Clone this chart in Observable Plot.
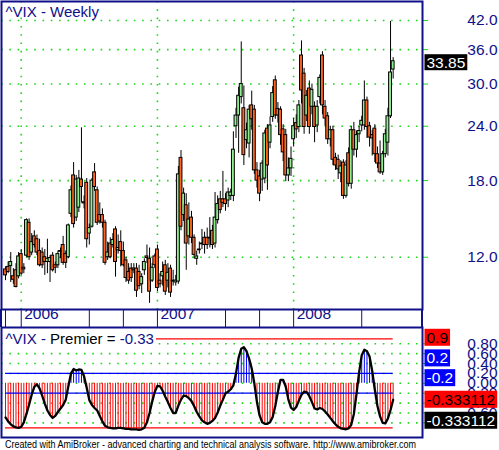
<!DOCTYPE html>
<html><head><meta charset="utf-8">
<script src="https://cdn.jsdelivr.net/npm/d3@7"></script>
<script src="https://cdn.jsdelivr.net/npm/@observablehq/plot@0.6"></script>
<style>
html,body{margin:0;padding:0;background:#fff;}
#chart{position:relative;width:499px;height:450px;overflow:hidden;font-family:"Liberation Sans",Arial,sans-serif;}
#chart svg{position:absolute;left:0;}
#band{position:absolute;left:0;top:309px;width:423px;height:18px;box-sizing:border-box;border-left:2px solid #10108a;border-right:2px solid #10108a;}
</style></head><body><div id="chart"><div id="band"></div></div>
<script>
// ---- data (weekly ^VIX bars) ----
const opens = [11.25,11.4,11.45,10.85,11.2,10.85,12.2,11.35,12.1,14.4, 12.3,13.4,13.2,12.4,12.3,12.0,11.7,11.7,12.1,11.5, 11.5,12.4,12.8,12.2,12.0,15.1,18.5,14.8,15.6,18.1, 16.05,17.8,13.6,14.1,18.8,17.1,15.0,15.0,14.4,12.0, 12.9,12.8,13.9,12.45,13.0,12.4,11.8,11.1,11.3,11.3, 11.3,11.1,10.4,11.2,12.05,11.9,10.6,12.05,12.5,10.6, 10.85,11.5,10.6,11.3,10.6,10.5,10.55,20.3,15.0,15.8, 13.4,14.8,13.3,11.9,12.45,12.85,13.3,13.3,13.3,13.8, 12.9,14.6,16.3,16.3,16.3,16.2,16.6,16.6,24.0,25.4, 28.0,26.4,22.3,21.9,26.8,26.2,19.0,18.4,18.1,18.2, 23.7,22.0,25.2,30.6,26.3,26.2,23.6,22.9,18.5,19.2, 22.4,24.4,23.9,34.9,31.7,25.4,29.3,26.6,26.6,24.1, 28.0,34.9,26.6,25.3,22.4,23.5,20.3,20.1,18.7,19.8, 16.6,20.8,17.7,23.5,21.2,23.0,24.1,24.1,27.5,24.0, 22.9,23.7,20.7,19.7,18.8,20.7,22.0,25.3,32.4];
const highs = [11.4,11.7,12.3,11.3,11.6,12.3,12.5,11.6,14.7,14.7, 13.6,13.8,13.5,13.2,12.6,12.5,13.2,12.1,12.3,11.7, 12.4,12.6,13.4,12.4,14.3,17.5,19.8,18.5,19.0,23.8, 16.6,18.2,14.3,18.2,19.7,17.4,16.0,15.5,14.6,13.0, 13.3,13.6,14.1,13.5,13.8,13.0,12.0,11.6,11.6,11.6, 11.6,11.5,11.0,11.9,12.8,12.6,11.6,12.2,12.8,11.0, 11.7,11.8,11.6,11.5,11.2,10.9,19.4,21.1,17.3,16.8, 16.0,15.3,13.5,12.4,13.0,13.9,13.7,14.0,14.8,14.2, 16.9,16.6,17.0,18.9,16.8,17.3,17.2,23.3,26.4,29.5, 37.5,29.7,24.4,26.8,28.9,26.8,19.8,19.0,20.0,23.5, 24.2,25.2,29.6,31.3,27.2,26.6,24.2,23.6,20.3,21.5, 25.0,25.5,27.5,37.7,32.6,29.0,30.5,30.0,27.3,27.5, 31.5,35.6,27.5,25.8,24.0,24.0,20.8,20.6,20.0,20.1, 20.0,21.4,24.0,24.5,23.4,24.0,25.3,30.5,28.0,24.5, 23.5,24.2,21.5,22.2,21.0,23.6,26.4,41.8,34.5];
const lows = [10.6,11.0,10.5,10.4,10.2,10.7,10.9,11.0,12.0,11.8, 12.1,12.6,12.1,11.4,11.3,10.9,11.0,10.5,11.1,11.0, 11.3,11.9,11.5,11.3,11.9,14.8,14.0,14.5,15.2,16.0, 15.5,12.6,12.8,14.0,17.0,14.2,14.3,14.0,11.5,11.8, 11.9,12.6,10.8,12.2,11.4,11.4,10.5,10.4,10.5,11.0, 9.7,10.1,9.9,10.9,11.6,9.4,10.5,11.3,10.0,10.2, 10.3,9.8,10.2,9.7,10.3,10.3,10.4,13.8,14.5,11.2, 12.8,12.9,11.9,11.5,12.2,12.5,12.2,12.5,12.6,12.5, 12.6,14.3,15.1,15.6,15.3,15.6,16.2,16.1,22.5,20.8, 27.0,19.5,21.3,20.3,23.5,18.6,17.3,16.1,17.0,17.7, 17.1,21.3,24.5,24.9,24.4,21.7,19.9,17.9,17.9,18.4, 21.5,22.5,23.2,27.0,23.0,24.6,23.0,25.5,22.0,23.2, 27.0,25.5,24.0,21.8,21.5,19.5,19.0,18.1,17.8,16.3, 16.4,17.4,17.2,20.5,20.3,22.0,23.3,23.5,22.5,21.5, 20.5,19.8,19.2,18.6,18.5,20.3,20.5,25.0,30.8];
const closes = [10.9,11.1,11.7,10.65,10.25,12.05,11.0,11.25,14.6,12.0, 13.0,12.8,12.3,11.5,11.5,11.7,11.9,11.95,11.2,11.35, 12.2,12.35,11.65,11.65,14.2,17.1,14.3,18.1,18.2,17.4, 15.95,13.2,14.0,18.0,17.4,14.4,14.5,14.4,11.65,12.3, 12.0,13.15,11.7,12.6,12.4,11.5,10.75,10.6,10.75,11.2, 10.05,10.3,10.8,11.7,11.95,10.0,11.35,11.5,10.2,10.4, 11.1,10.0,11.05,9.95,10.55,10.6,18.6,14.1,16.8,12.9, 14.65,13.3,12.15,12.05,12.5,12.9,12.8,12.8,13.25,12.8, 14.8,15.9,15.4,16.0,15.9,16.9,16.9,21.2,25.4,28.2, 30.0,20.6,23.5,26.2,24.9,19.0,18.0,16.8,19.7,23.1, 19.5,24.1,28.6,25.4,25.4,22.9,20.9,18.5,19.2,20.2, 24.0,23.6,26.8,29.0,23.9,28.2,23.9,29.1,23.9,26.6, 31.0,26.8,25.0,22.4,23.5,20.1,19.5,19.1,19.4,16.6, 19.5,17.7,23.5,21.2,22.9,23.4,24.7,27.5,23.9,22.6, 22.5,20.7,19.7,18.8,20.7,23.0,25.3,31.9,33.85];
const premier = [-0.69,-0.77,-0.83,-0.87,-0.89,-0.90,-0.88,-0.79,-0.62,-0.43, -0.23,-0.07,-0.02,-0.10,-0.25,-0.41,-0.55,-0.64,-0.70,-0.66, -0.58,-0.51,-0.44,-0.33,-0.06,0.20,0.29,0.26,0.28,0.27, 0.14,-0.09,-0.34,-0.44,-0.50,-0.55,-0.66,-0.77,-0.86,-0.89, -0.90,-0.91,-0.91,-0.90,-0.90,-0.91,-0.92,-0.92,-0.93,-0.93, -0.93,-0.94,-0.93,-0.90,-0.79,-0.60,-0.37,-0.17,-0.05,-0.06, -0.15,-0.27,-0.38,-0.50,-0.60,-0.60,-0.45,-0.33,-0.25,-0.26, -0.30,-0.36,-0.46,-0.58,-0.67,-0.75,-0.79,-0.82,-0.80,-0.76, -0.70,-0.59,-0.45,-0.33,-0.20,-0.17,-0.12,-0.04,0.20,0.52, 0.70,0.73,0.65,0.50,0.30,0.00,-0.38,-0.65,-0.79,-0.82, -0.82,-0.79,-0.68,-0.46,-0.17,0.07,0.07,-0.07,-0.33,-0.49, -0.54,-0.48,-0.35,-0.23,-0.17,-0.18,-0.26,-0.38,-0.51,-0.53, -0.50,-0.52,-0.57,-0.63,-0.70,-0.77,-0.83,-0.88,-0.91,-0.92, -0.93,-0.91,-0.84,-0.62,-0.22,0.22,0.57,0.68,0.65,0.54, 0.25,-0.13,-0.46,-0.67,-0.80,-0.81,-0.71,-0.54,-0.333112];

const priceTicks = [12, 18, 24, 30, 36, 42];
const yearTicks = [6, 58, 110];           // bar index where each year starts
const yearLabels = ["2006", "2007", "2008"];
const periodTicks = [0, 6, 32, 45, 58, 84, 97, 110, 136];
const premierTicks = [-0.8, -0.6, -0.4, -0.2, 0, 0.2, 0.4, 0.6, 0.8];
const redLevels = [0.9, -0.9];
const blueLevels = [0.2, -0.2];
const premierBoxValues = [0.9, 0.2, -0.2, -0.333112, -0.333112];
const premierBoxLabels = ["0.9", "0.2", "-0.2", "-0.333112", "-0.333112"];
const topTitle = "^VIX - Weekly";
const bottomTitleParts = ["^VIX - ", "Premier = ", "-0.33"];
const footerText = "Created with AmiBroker - advanced charting and technical analysis software. http://www.amibroker.com";

(function () {
// ---- styles ----
const NAVY = "#10108a", GRID = "#1ed81e", UP = "#90ee90", DOWN = "#ff6420";
const RED = "#ff0000", BLUE = "#0000ff";
const FONT = "'Liberation Sans', Arial, sans-serif";
const boxBg = ["#ff0000", "#0000ff", "#0000ff", "#ff0000", "#000000"];
const boxFg = ["#000000", "#ffffff", "#ffffff", "#000000", "#ffffff"];
const boxShift = [-1, -15, -15, 0, 21];
const titleColors = [NAVY, "#000000", NAVY];

const bars = closes.map((c, i) => ({i, open: opens[i], high: highs[i], low: lows[i], close: c}));
const last = bars[bars.length - 1];
const pdata = premier.map((v, i) => ({i, v}));
const xDomain = [-1.53, 159.2];
const dotted = {stroke: GRID, strokeOpacity: 1, strokeWidth: 1.6, strokeDasharray: "1.6,6.7"};

const chart = document.getElementById("chart");

const topPlot = Plot.plot({
  width: 499, height: 327,
  marginLeft: 1, marginRight: 77, marginTop: 1, marginBottom: 18,
  style: {fontFamily: FONT, background: "transparent", overflow: "visible"},
  x: {type: "linear", domain: xDomain, label: null},
  y: {type: "log", domain: [9.10, 46.44], label: null},
  color: {type: "identity"},
  marks: [
    Plot.gridY(priceTicks, dotted),
    Plot.gridX(yearTicks, dotted),
    Plot.ruleX(bars, {x: "i", y1: "low", y2: "high", stroke: "black", strokeWidth: 1}),
    Plot.rect(bars, {x1: d => d.i - 0.55, x2: d => d.i + 0.55, y1: "open", y2: "close",
      fill: d => d.close >= d.open ? UP : DOWN, stroke: "black", strokeWidth: 1}),
    Plot.axisY(priceTicks, {anchor: "right", label: null, tickSize: 5, tickPadding: 70, stroke: GRID,
      fill: NAVY, fontSize: 15.5, textAnchor: "end", tickFormat: d => d.toFixed(1)}),
    Plot.axisX(periodTicks, {anchor: "bottom", label: null, tickSize: 18, tickFormat: () => "", stroke: NAVY}),
    Plot.text(yearLabels, {x: (d, k) => yearTicks[k], text: d => d, frameAnchor: "bottom", dy: 9, dx: 3,
      textAnchor: "start", fill: NAVY, fontSize: 15.5}),
    Plot.frame({stroke: NAVY, strokeWidth: 2}),
    Plot.text([topTitle], {text: d => d, frameAnchor: "top-left", dx: 4, dy: 15.7, lineAnchor: "bottom",
      textAnchor: "start", fill: NAVY, fontSize: 15}),
    Plot.text([last.close], {y: d => d, text: d => d.toFixed(2), frameAnchor: "right", dx: 4, dy: 1.5,
      textAnchor: "start", fill: "#ffffff", fontSize: 15.5, ariaDescription: "valuebox"})
  ]
});
topPlot.style.top = "0px";
chart.appendChild(topPlot);

const boxMarks = premierBoxValues.map((v, k) =>
  Plot.text([v], {y: d => d, text: () => premierBoxLabels[k], frameAnchor: "right", dx: 4, dy: boxShift[k],
    textAnchor: "start", fill: boxFg[k], fontSize: 15.5, ariaDescription: "valuebox"}));

const bottomPlot = Plot.plot({
  width: 499, height: 112,
  marginLeft: 1, marginRight: 77, marginTop: 1, marginBottom: 1,
  style: {fontFamily: FONT, background: "transparent", overflow: "visible"},
  x: {type: "linear", domain: xDomain, axis: null, label: null},
  y: {type: "linear", domain: [-1.096, 1.129], label: null},
  color: {type: "identity"},
  marks: [
    Plot.gridY(premierTicks, dotted),
    Plot.ruleX(pdata, {x: "i", y1: () => 0, y2: "v", stroke: d => d.v > 0 ? BLUE : RED, strokeWidth: 1}),
    Plot.ruleY(redLevels, {y: d => d, x1: () => 0, x2: () => last.i, stroke: RED, strokeWidth: 1.2}),
    Plot.ruleY(blueLevels, {y: d => d, x1: () => 0, x2: () => last.i, stroke: BLUE, strokeWidth: 1.2}),
    Plot.line(pdata, {x: "i", y: "v", stroke: "black", strokeWidth: 2.3}),
    Plot.axisY(premierTicks, {anchor: "right", label: null, tickSize: 5, tickPadding: 70, stroke: GRID,
      fill: NAVY, fontSize: 15.5, textAnchor: "end", tickFormat: d => d.toFixed(2)}),
    Plot.frame({stroke: NAVY, strokeWidth: 2}),
    Plot.text([bottomTitleParts.join("")], {text: d => d, frameAnchor: "top-left", dx: 4, dy: 16.3,
      lineAnchor: "bottom", textAnchor: "start", fill: NAVY, fontSize: 15, ariaDescription: "ptitle"}),
    ...boxMarks
  ]
});
bottomPlot.style.top = "326px";
chart.appendChild(bottomPlot);

// footer caption
const foot = d3.create("svg").attr("width", 499).attr("height", 13)
  .style("position", "absolute").style("top", "437px").style("left", "0px");
foot.append("text").attr("x", 5).attr("y", 10.5).attr("font-size", 10.5)
  .attr("font-family", FONT).attr("fill", "#000")
  .attr("textLength", 411).attr("lengthAdjust", "spacingAndGlyphs").text(footerText);
chart.appendChild(foot.node());

// ---- label boxes behind value texts ----
const NS = "http://www.w3.org/2000/svg";
function boxBehind(t, color, h) {
  const b = t.getBBox();
  const r = document.createElementNS(NS, "rect");
  r.setAttribute("x", b.x - 2);
  r.setAttribute("y", b.y + b.height / 2 - h / 2);
  r.setAttribute("width", b.width + 4);
  r.setAttribute("height", h);
  r.setAttribute("fill", color);
  const tr = t.getAttribute("transform");
  if (tr) r.setAttribute("transform", tr);
  t.parentNode.insertBefore(r, t);
}
topPlot.querySelectorAll('g[aria-description="valuebox"] text').forEach(t => boxBehind(t, "#000000", 16));
bottomPlot.querySelectorAll('g[aria-description="valuebox"] text').forEach((t, k) => boxBehind(t, boxBg[k], 17));

const tt = bottomPlot.querySelector('g[aria-description="ptitle"] text');
if (tt) {
  tt.textContent = "";
  bottomTitleParts.forEach((s, k) => {
    const ts = document.createElementNS(NS, "tspan");
    ts.textContent = s;
    ts.setAttribute("fill", titleColors[k]);
    tt.appendChild(ts);
  });
  boxBehind(tt, "#ffffff", 16);
}
})();
</script>
</body></html>
